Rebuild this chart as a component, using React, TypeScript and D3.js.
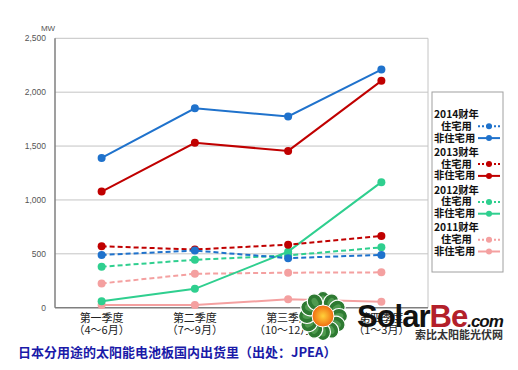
import React, { useEffect, useRef } from 'react';
import * as d3 from 'd3';

const quarters = ['第一季度', '第二季度', '第三季度', '第四季度'];
const quarterMonths = ['（4～6月）', '（7～9月）', '（10～12月）', '（1～3月）'];
const yTicks = [0, 500, 1000, 1500, 2000, 2500];

const fiscalYears = ['2014财年', '2013财年', '2012财年', '2011财年'];
const yearColors = ['#1f72cc', '#c00000', '#2fcf8f', '#f4a0a0'];
const residential = [
  [490, 530, 460, 490],
  [570, 540, 585, 665],
  [380, 445, 485, 560],
  [225, 315, 325, 328],
];
const nonResidential = [
  [1390, 1850, 1775, 2210],
  [1078, 1530, 1455, 2105],
  [60, 175, 520, 1165],
  [25, 25, 78, 56],
];

const cjk = "'Noto Sans CJK SC', 'Noto Sans', sans-serif";
const latin = "'Liberation Sans', Arial, sans-serif";

const App = () => {
  const svgRef = useRef<SVGSVGElement>(null);

  useEffect(() => {
    if (!svgRef.current) return;
    const svg = d3.select(svgRef.current);
    svg.selectAll('*').remove();

    const width = 518;
    const height = 370;
    const left = 55, right = 428, top = 38.3, bottom = 307.7;

    svg.attr('width', width).attr('height', height);
    svg.append('rect').attr('width', width).attr('height', height).attr('fill', '#fff');

    const x = d3.scaleBand().domain(quarters).range([left, right]);
    const y = d3.scaleLinear().domain([0, 2500]).range([bottom, top]);
    const cx = (q: string) => (x(q) as number) + x.bandwidth() / 2;

    // gridlines
    svg.append('g')
      .selectAll('line')
      .data(yTicks.filter(d => d > 0))
      .enter()
      .append('line')
      .attr('x1', left)
      .attr('x2', right)
      .attr('y1', d => y(d))
      .attr('y2', d => y(d))
      .attr('stroke', '#c4c4c4')
      .attr('stroke-width', 1);

    // right border
    svg.append('line')
      .attr('x1', right).attr('x2', right)
      .attr('y1', top).attr('y2', bottom)
      .attr('stroke', '#c4c4c4');

    // axes
    svg.append('line')
      .attr('x1', left).attr('x2', left)
      .attr('y1', top).attr('y2', bottom)
      .attr('stroke', '#7f7f7f').attr('stroke-width', 1.5);
    svg.append('line')
      .attr('x1', left).attr('x2', right)
      .attr('y1', bottom).attr('y2', bottom)
      .attr('stroke', '#7f7f7f').attr('stroke-width', 1.5);

    // y tick labels
    svg.append('g')
      .selectAll('text')
      .data(yTicks)
      .enter()
      .append('text')
      .attr('x', left - 9)
      .attr('y', d => y(d) + 3)
      .attr('text-anchor', 'end')
      .attr('font-family', latin)
      .attr('font-size', '8.5px')
      .attr('fill', '#555')
      .text(d => d3.format(',')(d));

    svg.append('text')
      .attr('x', 48)
      .attr('y', 31)
      .attr('text-anchor', 'middle')
      .attr('font-family', latin)
      .attr('font-size', '8px')
      .attr('fill', '#555')
      .text('MW');

    // x labels
    quarters.forEach((q, i) => {
      svg.append('text')
        .attr('x', cx(q))
        .attr('y', 322)
        .attr('text-anchor', 'middle')
        .attr('font-family', cjk)
        .attr('font-size', '11px')
        .attr('fill', '#222')
        .text(q);
      svg.append('text')
        .attr('x', cx(q))
        .attr('y', 334)
        .attr('text-anchor', 'middle')
        .attr('font-family', cjk)
        .attr('font-size', '11px')
        .attr('fill', '#222')
        .text(quarterMonths[i]);
    });

    const line = d3.line<number>()
      .x((_, i) => cx(quarters[i]))
      .y(d => y(d));

    // series, oldest drawn first
    for (let k = fiscalYears.length - 1; k >= 0; k--) {
      const color = yearColors[k];
      [residential[k], nonResidential[k]].forEach((vals, j) => {
        svg.append('path')
          .attr('d', line(vals))
          .attr('fill', 'none')
          .attr('stroke', color)
          .attr('stroke-width', 2)
          .attr('stroke-dasharray', j === 0 ? '5,3' : null);
        svg.append('g')
          .selectAll('circle')
          .data(vals)
          .enter()
          .append('circle')
          .attr('cx', (_, i) => cx(quarters[i]))
          .attr('cy', d => y(d))
          .attr('r', 4)
          .attr('fill', color);
      });
    }

    // legend
    const lg = svg.append('g');
    lg.append('rect')
      .attr('x', 432).attr('y', 92)
      .attr('width', 71).attr('height', 180)
      .attr('fill', '#fff')
      .attr('stroke', '#a0a0a0');
    fiscalYears.forEach((fy, k) => {
      const y0 = 118 + k * 37.8;
      const rows = [
        { t: fy, dx: 434, dy: 0, sym: null as null | boolean },
        { t: '住宅用', dx: 441, dy: 11.8, sym: true },
        { t: '非住宅用', dx: 434, dy: 23.6, sym: false },
      ];
      rows.forEach(r => {
        lg.append('text')
          .attr('x', r.dx)
          .attr('y', y0 + r.dy)
          .attr('font-family', cjk)
          .attr('font-size', '10.3px')
          .attr('font-weight', 'bold')
          .attr('fill', '#111')
          .text(r.t);
        if (r.sym !== null) {
          const sy = y0 + r.dy - 3.5;
          lg.append('line')
            .attr('x1', 478).attr('x2', 500)
            .attr('y1', sy).attr('y2', sy)
            .attr('stroke', yearColors[k])
            .attr('stroke-width', 2)
            .attr('stroke-dasharray', r.sym ? '2,2' : null);
          lg.append('circle')
            .attr('cx', 489).attr('cy', sy).attr('r', 3)
            .attr('fill', yearColors[k]);
        }
      });
    });

    // caption
    svg.append('text')
      .attr('x', 18)
      .attr('y', 357)
      .attr('font-family', cjk)
      .attr('font-size', '13px')
      .attr('font-weight', 'bold')
      .attr('fill', '#1a1aa8')
      .text('日本分用途的太阳能电池板国内出货里（出处：JPEA）');

    // watermark logo
    const defs = svg.append('defs');
    const grad = defs.append('radialGradient').attr('id', 'sun');
    grad.append('stop').attr('offset', '0%').attr('stop-color', '#ffd23a');
    grad.append('stop').attr('offset', '100%').attr('stop-color', '#f06a10');
    const logo = svg.append('g').attr('transform', 'translate(323,316)');
    d3.range(12).forEach(i => {
      logo.append('ellipse')
        .attr('cx', 0).attr('cy', -16)
        .attr('rx', 7.5).attr('ry', 8.5)
        .attr('transform', `rotate(${i * 30})`)
        .attr('fill', '#2e7a32')
        .attr('stroke', '#fff')
        .attr('stroke-width', 1.2);
      logo.append('ellipse')
        .attr('cx', 0).attr('cy', -16)
        .attr('rx', 3).attr('ry', 4.5)
        .attr('transform', `rotate(${i * 30})`)
        .attr('fill', '#4f9a4f');
    });
    logo.append('circle').attr('r', 11).attr('fill', 'url(#sun)').attr('stroke', '#fff').attr('stroke-width', 1);

    const brand = svg.append('text')
      .attr('x', 357)
      .attr('y', 327)
      .attr('font-family', latin)
      .attr('font-weight', 'bold')
      .attr('font-size', '31px')
      .attr('letter-spacing', '-1');
    brand.append('tspan').attr('fill', '#111').text('Solar');
    brand.append('tspan').attr('fill', '#b3202a').text('Be');
    brand.append('tspan').attr('fill', '#111').attr('font-size', '17px').attr('font-style', 'italic').text('.com');

    svg.append('text')
      .attr('x', 415)
      .attr('y', 339)
      .attr('font-family', cjk)
      .attr('font-weight', 'bold')
      .attr('font-size', '11px')
      .attr('fill', '#333')
      .text('索比太阳能光伏网');
  }, []);

  return (
    <svg
      ref={svgRef}
      style={{ position: 'absolute', left: 0, top: 0, display: 'block' }}
    />
  );
};

export default App;
